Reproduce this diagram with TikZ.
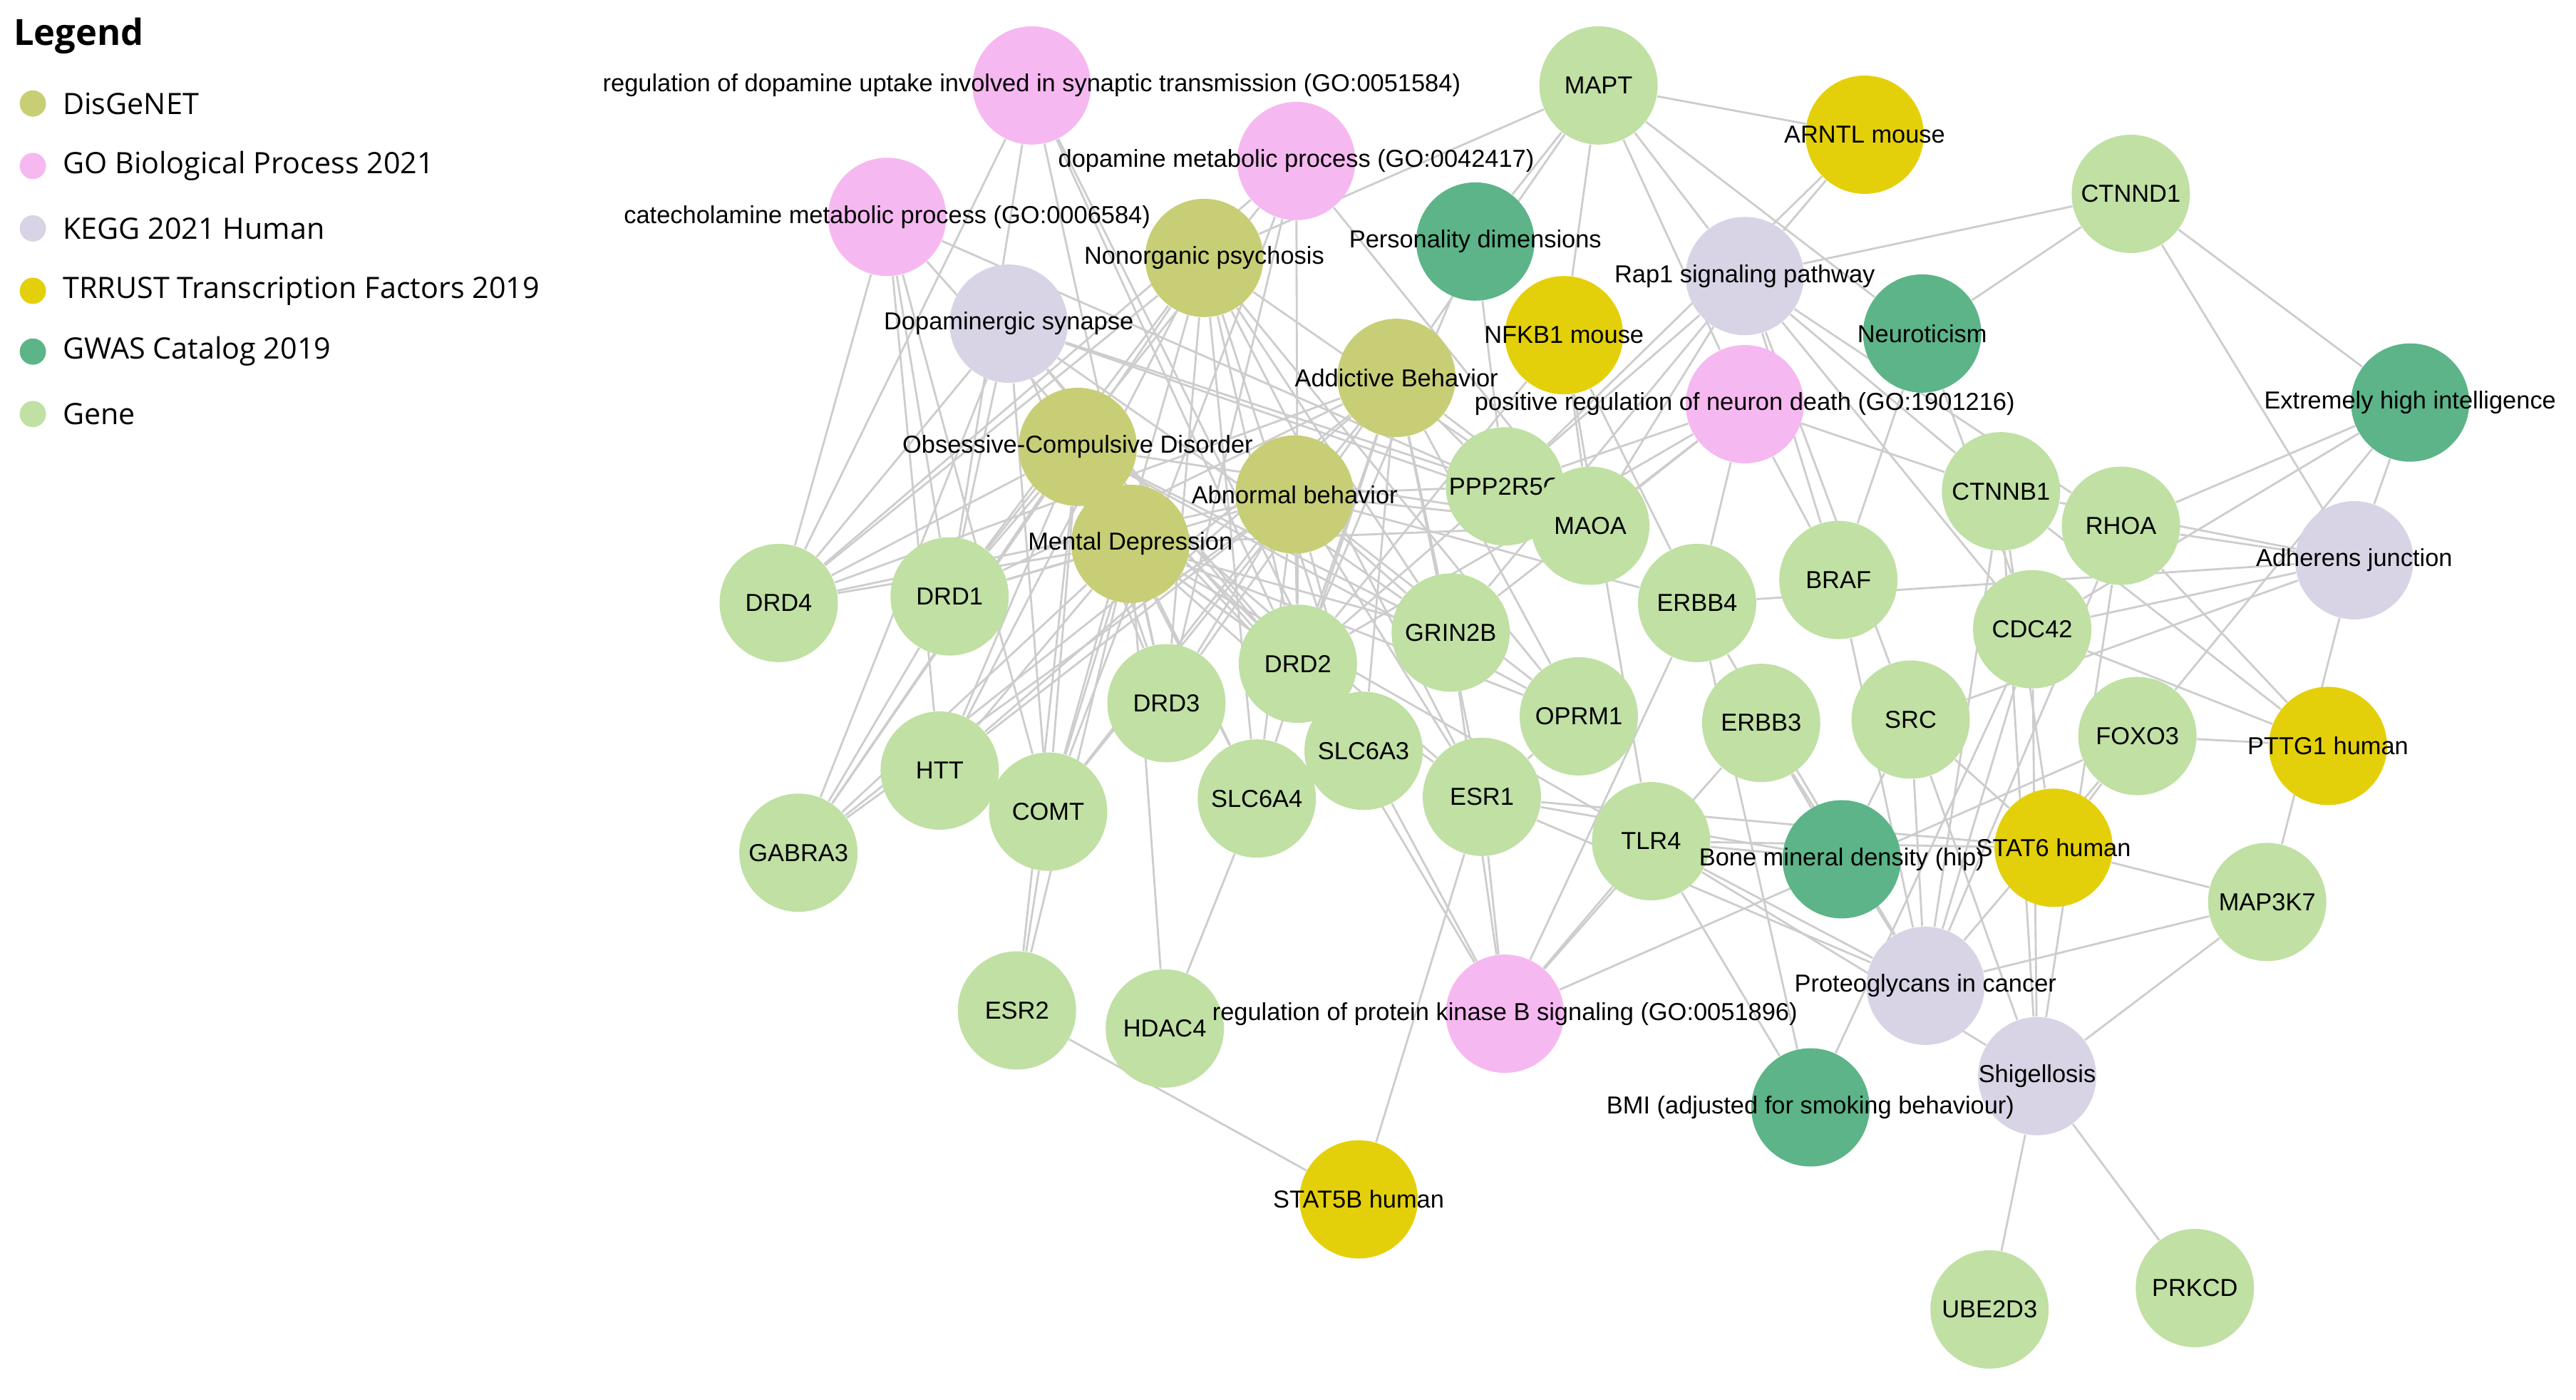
\documentclass[tikz,border=0pt]{standalone}
\usepackage{fontspec}
\setmainfont{Liberation Sans}
\newfontfamily\legfont{Open Sans}
\usetikzlibrary{backgrounds}
\definecolor{cDis}{RGB}{200,206,118}
\definecolor{cGO}{RGB}{246,184,240}
\definecolor{cKEGG}{RGB}{216,212,230}
\definecolor{cTF}{RGB}{228,208,10}
\definecolor{cGWAS}{RGB}{92,180,136}
\definecolor{cGene}{RGB}{192,224,164}
\definecolor{cEdge}{RGB}{205,205,205}
\tikzset{
 nd/.style={circle,minimum size=1.44cm,inner sep=0pt,draw=none,
   label={[font=\fontsize{8.5}{10}\selectfont,inner sep=0pt]center:#1}},
 gene/.style={nd=#1,fill=cGene},
 dis/.style={nd=#1,fill=cDis},
 go/.style={nd=#1,fill=cGO},
 kegg/.style={nd=#1,fill=cKEGG},
 tf/.style={nd=#1,fill=cTF},
 gwas/.style={nd=#1,fill=cGWAS},
 ed/.style={draw=cEdge,line width=0.7pt},
 legdot/.style={circle,minimum size=0.32cm,inner sep=0pt},
 legtxt/.style={anchor=west,font=\legfont\fontsize{10.2}{12}\selectfont,inner sep=0pt}
}
\begin{document}
\begin{tikzpicture}[x=0.02cm,y=-0.02cm]
\useasboundingbox (0,0) rectangle (1568,852);
% legend
\node[anchor=west,font=\legfont\bfseries\fontsize{12.5}{14}\selectfont,inner sep=0pt] (legtitle) at (8,22) {Legend};
\node[legdot,fill=cDis] (l1) at (20,63) {}; \node[legtxt] (t1) at (38,63) {DisGeNET};
\node[legdot,fill=cGO] (l2) at (20,101) {}; \node[legtxt] (t2) at (38,101) {GO Biological Process 2021};
\node[legdot,fill=cKEGG] (l3) at (20,139) {}; \node[legtxt] (t3) at (38,139) {KEGG 2021 Human};
\node[legdot,fill=cTF] (l4) at (20,177) {}; \node[legtxt] (t4) at (38,177) {TRRUST Transcription Factors 2019};
\node[legdot,fill=cGWAS] (l5) at (20,214) {}; \node[legtxt] (t5) at (38,214) {GWAS Catalog 2019};
\node[legdot,fill=cGene] (l6) at (20,252) {}; \node[legtxt] (t6) at (38,252) {Gene};
% genes
\node[gene=MAPT] (mapt) at (973,52) {};
\node[gene=CTNND1] (ctnnd1) at (1297,118) {};
\node[gene=PPP2R5C] (ppp) at (916,296) {};
\node[gene=MAOA] (maoa) at (968,320) {};
\node[gene=CTNNB1] (ctnnb1) at (1218,299) {};
\node[gene=RHOA] (rhoa) at (1291,320) {};
\node[gene=DRD4] (drd4) at (474,367) {};
\node[gene=DRD1] (drd1) at (578,363) {};
\node[gene=ERBB4] (erbb4) at (1033,367) {};
\node[gene=BRAF] (braf) at (1119,353) {};
\node[gene=CDC42] (cdc42) at (1237,383) {};
\node[gene=GRIN2B] (grin2b) at (883,385) {};
\node[gene=DRD2] (drd2) at (790,404) {};
\node[gene=DRD3] (drd3) at (710,428) {};
\node[gene=OPRM1] (oprm1) at (961,436) {};
\node[gene=ERBB3] (erbb3) at (1072,440) {};
\node[gene=SRC] (src) at (1163,438) {};
\node[gene=FOXO3] (foxo3) at (1301,448) {};
\node[gene=HTT] (htt) at (572,469) {};
\node[gene=SLC6A3] (slc6a3) at (830,457) {};
\node[gene=COMT] (comt) at (638,494) {};
\node[gene=SLC6A4] (slc6a4) at (765,486) {};
\node[gene=ESR1] (esr1) at (902,485) {};
\node[gene=TLR4] (tlr4) at (1005,512) {};
\node[gene=GABRA3] (gabra3) at (486,519) {};
\node[gene=MAP3K7] (map3k7) at (1380,549) {};
\node[gene=ESR2] (esr2) at (619,615) {};
\node[gene=HDAC4] (hdac4) at (709,626) {};
\node[gene=UBE2D3] (ube2d3) at (1211,797) {};
\node[gene=PRKCD] (prkcd) at (1336,784) {};
% KEGG
\node[kegg=Dopaminergic synapse] (dopsyn) at (614,197) {};
\node[kegg=Rap1 signaling pathway] (rap1) at (1062,168) {};
\node[kegg=Adherens junction] (adh) at (1433,341) {};
\node[kegg=Proteoglycans in cancer] (proteo) at (1172,600) {};
\node[kegg=Shigellosis] (shig) at (1240,655) {};
% TF
\node[tf=ARNTL mouse] (arntl) at (1135,82) {};
\node[tf=NFKB1 mouse] (nfkb1) at (952,204) {};
\node[tf=PTTG1 human] (pttg1) at (1417,454) {};
\node[tf=STAT6 human] (stat6) at (1250,516) {};
\node[tf=STAT5B human] (stat5b) at (827,730) {};
% GWAS
\node[gwas=Personality dimensions] (pers) at (898,147) {};
\node[gwas=Neuroticism] (neuro) at (1170,203) {};
\node[gwas=Extremely high intelligence] (intel) at (1467,245) {};
\node[gwas=Bone mineral density (hip)] (bone) at (1121,523) {};
\node[gwas=BMI (adjusted for smoking behaviour)] (bmi) at (1102,674) {};
% GO
\node[go=regulation of dopamine uptake involved in synaptic transmission (GO:0051584)] (dopup) at (628,52) {};
\node[go=dopamine metabolic process (GO:0042417)] (dopmet) at (789,98) {};
\node[go=catecholamine metabolic process (GO:0006584)] (catmet) at (540,132) {};
\node[go=positive regulation of neuron death (GO:1901216)] (posn) at (1062,246) {};
\node[go=regulation of protein kinase B signaling (GO:0051896)] (pkb) at (916,617) {};
% DisGeNET
\node[dis=Nonorganic psychosis] (nonorg) at (733,157) {};
\node[dis=Addictive Behavior] (addict) at (850,230) {};
\node[dis=Obsessive-Compulsive Disorder] (ocd) at (656,272) {};
\node[dis=Abnormal behavior] (abn) at (788,301) {};
\node[dis=Mental Depression] (mdep) at (688,331) {};
% edges
\begin{pgfonlayer}{background}
\foreach \d in {nonorg,addict,ocd,abn,mdep}{
 \foreach \g in {drd4,drd1,drd2,drd3,htt,comt,slc6a3,slc6a4,maoa,grin2b,oprm1,gabra3,esr1}{
  \draw[ed] (\d) -- (\g);}}
\foreach \a/\b in {mdep/hdac4,mdep/esr2,ocd/esr2,abn/ppp,addict/ppp,nonorg/mapt,mdep/tlr4,abn/erbb4,addict/mapt,
 dopup/drd4,dopup/drd1,dopup/drd2,dopup/drd3,dopup/slc6a3,
 dopmet/drd4,dopmet/drd1,dopmet/drd2,dopmet/drd3,dopmet/maoa,dopmet/comt,
 catmet/drd4,catmet/drd1,catmet/comt,catmet/maoa,catmet/slc6a3,catmet/htt,
 dopsyn/drd4,dopsyn/drd1,dopsyn/drd2,dopsyn/drd3,dopsyn/comt,dopsyn/maoa,dopsyn/slc6a3,dopsyn/ppp,dopsyn/grin2b,dopsyn/gabra3,
 rap1/braf,rap1/cdc42,rap1/ctnnb1,rap1/rhoa,rap1/src,rap1/drd2,rap1/grin2b,rap1/ctnnd1,rap1/mapt,rap1/maoa,
 adh/ctnnd1,adh/ctnnb1,adh/rhoa,adh/cdc42,adh/src,adh/map3k7,adh/erbb4,adh/intel,
 proteo/braf,proteo/ctnnb1,proteo/rhoa,proteo/cdc42,proteo/src,proteo/esr1,proteo/tlr4,proteo/erbb4,proteo/erbb3,proteo/map3k7,proteo/foxo3,
 shig/rhoa,shig/cdc42,shig/src,shig/tlr4,shig/ube2d3,shig/prkcd,shig/map3k7,shig/ctnnb1,
 posn/mapt,posn/grin2b,posn/maoa,posn/ctnnb1,posn/erbb4,posn/braf,posn/ppp,posn/drd2,
 pkb/erbb4,pkb/erbb3,pkb/esr1,pkb/tlr4,pkb/drd2,pkb/slc6a3,pkb/foxo3,pkb/grin2b,
 arntl/mapt,arntl/rap1,arntl/ppp,nfkb1/maoa,nfkb1/erbb4,nfkb1/drd2,nfkb1/mapt,nfkb1/tlr4,
 pers/mapt,pers/drd2,pers/ppp,neuro/mapt,neuro/ctnnd1,neuro/braf,neuro/cdc42,
 intel/rhoa,intel/ctnnd1,intel/foxo3,intel/cdc42,
 bone/tlr4,bone/esr1,bone/src,bone/erbb3,bmi/erbb4,bmi/tlr4,bmi/cdc42,
 stat5b/esr1,stat5b/esr2,stat6/tlr4,stat6/foxo3,stat6/src,stat6/map3k7,stat6/esr1,stat6/ctnnb1,
 pttg1/cdc42,pttg1/rhoa,pttg1/foxo3,pttg1/ctnnb1,
 esr2/comt,hdac4/slc6a4,gabra3/drd1,oprm1/esr1}{
 \draw[ed] (\a) -- (\b);}
\end{pgfonlayer}
\end{tikzpicture}
\end{document}
